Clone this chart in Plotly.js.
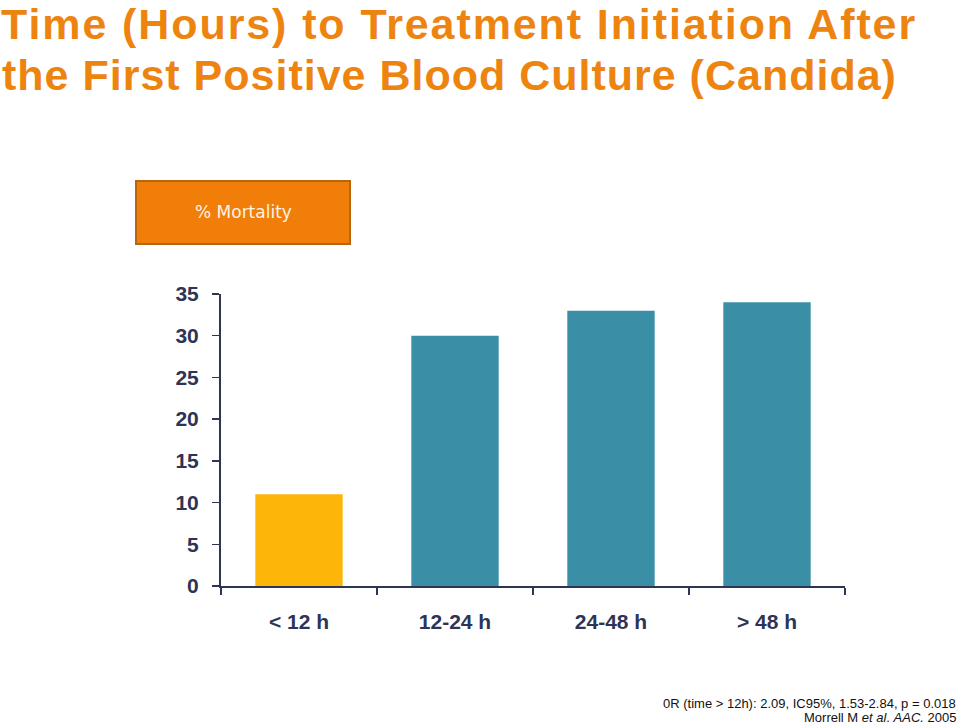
<!DOCTYPE html>
<html><head><meta charset="utf-8">
<script src="https://cdn.plot.ly/plotly-3.0.1.min.js"></script>
<style>
body{margin:0;background:#fff}#chart{width:960px;height:724px}
#chart g.annotation[data-index="0"] text{letter-spacing:1.9px}
#chart g.annotation[data-index="1"] text{letter-spacing:1.0px}
</style>
</head><body><div id="chart"></div>
<script>
const categories = ["< 12 h", "12-24 h", "24-48 h", "> 48 h"];
const mortality = [11, 30, 33, 34];
const barColors = ["#FDB50A", "#3A8FA6", "#3A8FA6", "#3A8FA6"];
const yTicks = [0, 5, 10, 15, 20, 25, 30, 35];
const titleLines = ["Time (Hours) to Treatment Initiation After", "the First Positive Blood Culture (Candida)"];
const footLines = ["0R (time > 12h): 2.09, IC95%, 1.53-2.84, p = 0.018", "Morrell M <i>et al</i>. <i>AAC.</i> 2005"];

const L = 221, R = 845, T = 294, B = 586;
const px = v => (v - L) / (R - L);
const py = v => (B - v) / (B - T);
const axisColor = "#2E3454";
const trace = {
  type: "bar", x: categories, y: mortality,
  marker: {color: barColors, line: {width: 0}},
  width: 0.56, hoverinfo: "skip"
};
const titleFont = {family: "Liberation Sans, Arial, sans-serif", size: 43, color: "#EE8410", weight: "bold"};
const footFont = {family: "Liberation Sans, Arial, sans-serif", size: 13, color: "#111"};
const layout = {
  width: 960, height: 724,
  margin: {l: L, r: 960 - R, t: T, b: 724 - B},
  paper_bgcolor: "#fff", plot_bgcolor: "#fff",
  showlegend: false,
  xaxis: {
    type: "category", showline: true, linecolor: axisColor, linewidth: 2,
    ticks: "outside", tickson: "boundaries", ticklen: 7, tickcolor: axisColor, tickwidth: 1.5,
    showgrid: false, zeroline: false, ticklabelstandoff: 16,
    tickfont: {family: "Liberation Sans, Arial, sans-serif", size: 21, color: axisColor, weight: "bold"}
  },
  yaxis: {
    range: [0, 35], tickvals: yTicks, showline: true, linecolor: axisColor, linewidth: 2,
    ticks: "outside", ticklen: 7, tickcolor: axisColor, tickwidth: 1.5,
    showgrid: false, zeroline: false, ticklabelstandoff: 9,
    tickfont: {family: "Liberation Sans, Arial, sans-serif", size: 21, color: axisColor, weight: "bold"}
  },
  shapes: [{
    type: "rect", xref: "paper", yref: "paper",
    x0: px(136), x1: px(350), y0: py(244), y1: py(181),
    fillcolor: "#F07E08", line: {color: "#B8650F", width: 2}
  }],
  annotations: [
    {text: titleLines[0], xref: "paper", yref: "paper", x: px(39), y: py(24),
     showarrow: false, xanchor: "left", yanchor: "middle", font: titleFont},
    {text: titleLines[1], xref: "paper", yref: "paper", x: px(21), y: py(75),
     showarrow: false, xanchor: "left", yanchor: "middle", font: titleFont},
    {text: "% Mortality", xref: "paper", yref: "paper",
     x: px(243), y: py(212), showarrow: false,
     xanchor: "center", yanchor: "middle",
     font: {family: "DejaVu Sans, Verdana, sans-serif", size: 17, color: "#FFF4E6"}},
    {text: footLines[0], xref: "paper", yref: "paper", x: px(958), y: py(703),
     showarrow: false, xanchor: "right", yanchor: "middle", font: footFont},
    {text: footLines[1], xref: "paper", yref: "paper", x: px(958), y: py(717),
     showarrow: false, xanchor: "right", yanchor: "middle", font: footFont}
  ]
};
Plotly.newPlot("chart", [trace], layout, {displayModeBar: false, staticPlot: true});
</script></body></html>
